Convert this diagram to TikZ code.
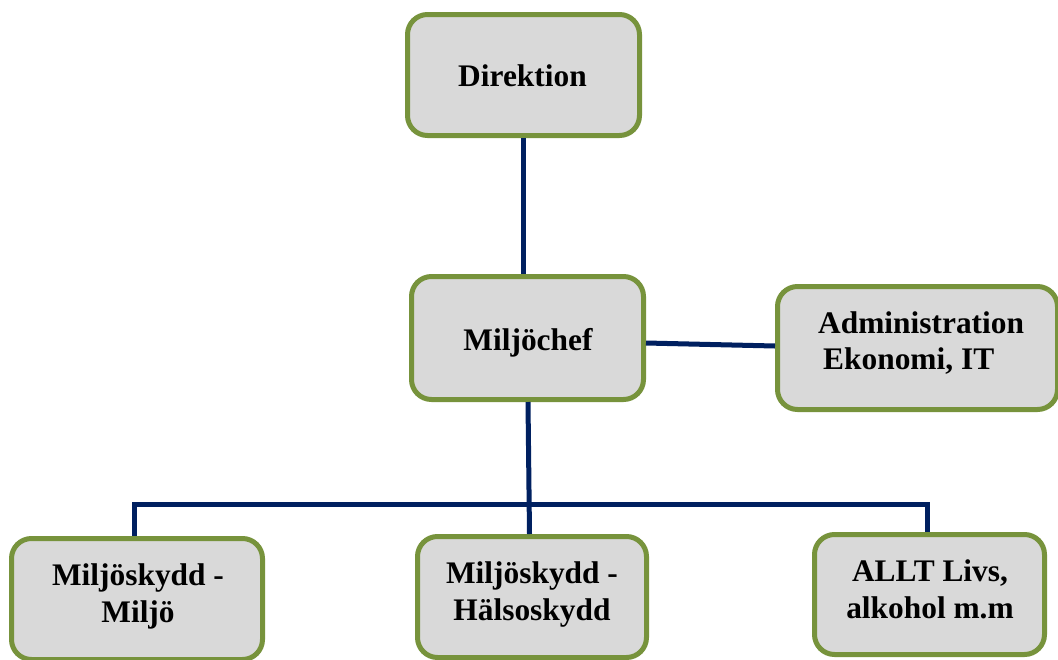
\documentclass[tikz,border=0pt]{standalone}
\usepackage{fontspec}
\setmainfont{Liberation Serif}
\definecolor{boxgreen}{HTML}{77933C}
\definecolor{boxfill}{HTML}{D9D9D9}
\definecolor{navy}{HTML}{002060}
\begin{document}
\begin{tikzpicture}[x=1pt,y=-1pt,
  orgbox/.style={draw=boxgreen, fill=boxfill, line width=5pt, rounded corners=20pt, inner sep=0pt},
  orgtext/.style={font=\fontsize{31.4}{36.5}\selectfont\bfseries, inner sep=0pt, align=center},
  conn/.style={draw=navy, line width=5pt}]
\useasboundingbox (0,0) rectangle (1058,659);
\clip (0,0) rectangle (1058,659);
% boxes
\node[orgbox, minimum width=232pt, minimum height=121pt] (dir) at (523.5,75) {};
\node[orgbox, minimum width=232pt, minimum height=123pt] (mc) at (527.5,338) {};
\node[orgbox, minimum width=280pt, minimum height=123pt] (adm) at (917.5,348) {};
\node[orgbox, minimum width=251pt, minimum height=121pt] (mil) at (137,599) {};
\node[orgbox, minimum width=229pt, minimum height=121pt] (hal) at (532,597) {};
\node[orgbox, minimum width=230pt, minimum height=120pt] (allt) at (929.5,594.5) {};
% texts
\node[orgtext] (dirT) at (522.5,76) {Direktion};
\node[orgtext] (mcT) at (528,342.6) {Miljöchef};
\node[orgtext, align=left, anchor=west] (admT) at (818,342.8) {Administration\\\hspace*{5pt}Ekonomi, IT};
\node[orgtext] (milT) at (138,596.5) {Miljöskydd -\\Miljö};
\node[orgtext] (halT) at (532,594.5) {Miljöskydd -\\Hälsoskydd};
\node[orgtext] (alltT) at (930,589.5) {ALLT Livs,\\alkohol m.m};
% connectors
\coordinate (bus) at (0,504);
\coordinate (milTop) at ([xshift=-3pt]mil.north);
\coordinate (alltTop) at ([xshift=-2.5pt]allt.north);
\draw[conn] (dir.south) -- (dir.south |- mc.north);
\draw[conn] ([yshift=-5pt]mc.east) -- ([yshift=2pt]adm.west);
\draw[conn] ([xshift=0.5pt]mc.south) -- ([xshift=-2.5pt]hal.north);
\draw[conn] (milTop) -- (milTop |- bus) -- (alltTop |- bus) -- (alltTop);
\end{tikzpicture}
\end{document}
